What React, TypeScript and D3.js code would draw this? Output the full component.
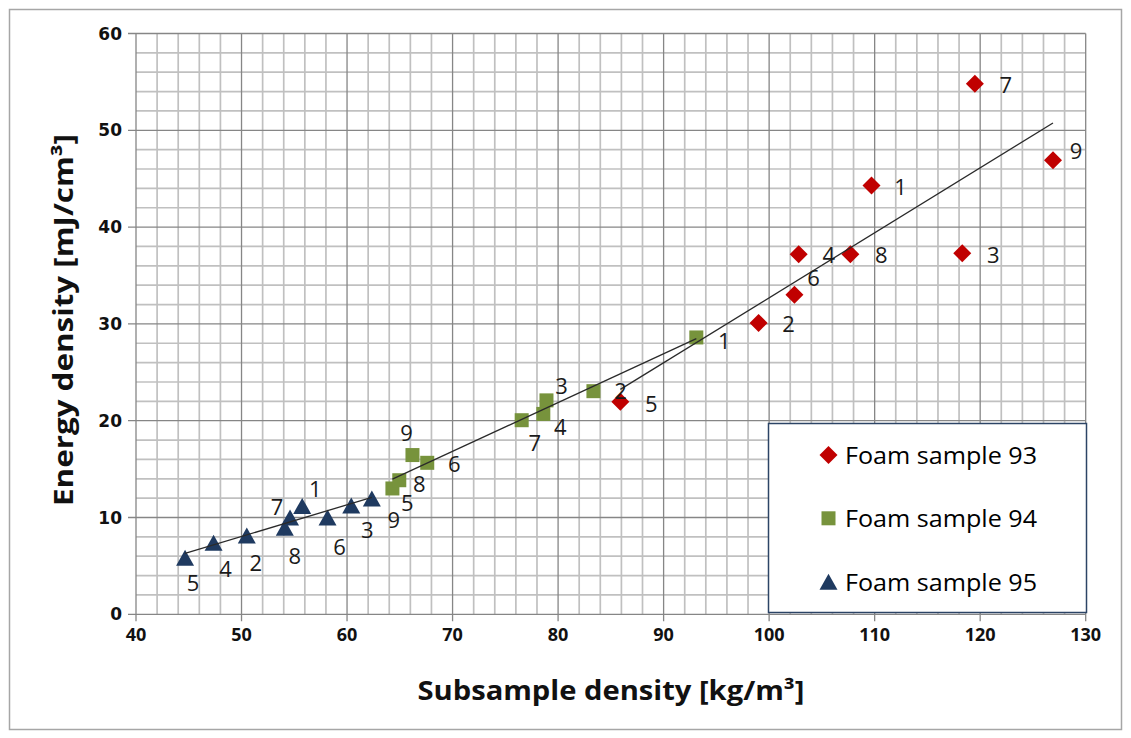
import React from "react";
import * as d3 from "d3";

// Sample numbers labelling each measured subsample
const sampleNumbers = ["1", "2", "3", "4", "5", "6", "7", "8", "9"];

// Foam sample 93 — subsample density [kg/m³] and energy density [mJ/cm³]
const foam93Density = [109.7, 99.0, 118.3, 102.8, 85.9, 102.4, 119.5, 107.7, 126.9];
const foam93Energy = [44.3, 30.1, 37.3, 37.2, 21.95, 33.0, 54.8, 37.2, 46.9];

// Foam sample 94
const foam94Density = [93.1, 83.35, 78.9, 78.6, 64.3, 67.6, 76.55, 64.95, 66.2];
const foam94Energy = [28.6, 23.05, 22.1, 20.7, 13.0, 15.65, 20.05, 13.85, 16.45];

// Foam sample 95
const foam95Density = [55.75, 50.5, 60.4, 47.35, 44.65, 58.15, 54.6, 54.1, 62.35];
const foam95Energy = [11.2, 8.15, 11.25, 7.4, 5.85, 10.0, 10.0, 8.95, 11.95];

const xTicks = [40, 50, 60, 70, 80, 90, 100, 110, 120, 130];
const yTicks = [0, 10, 20, 30, 40, 50, 60];

// Hand-placed label offsets (px) for each sample number, in order 1..9
const foam93LabelOffsets = [[29, 1], [30, 0], [31, 1], [30, 0], [31, 1], [19, -18], [31, 0], [31, 0], [23, -10]];
const foam94LabelOffsets = [[28, 3], [27, -1], [15, -15], [17, 12], [15, 14], [27, 0], [13, 22], [20, 3], [-6, -23]];
const foam95LabelOffsets = [[13, -18], [9, 27], [16, 24], [12, 25], [8, 24], [12, 28], [-13, -12], [10, 27], [22, 20]];

type Pt = { x: number; y: number; label: string; dx: number; dy: number };

function buildPoints(xs: number[], ys: number[], offs: number[][]): Pt[] {
  return xs.map((x, i) => ({ x, y: ys[i], label: sampleNumbers[i], dx: offs[i][0], dy: offs[i][1] }));
}

// Least-squares linear fit, drawn over the series' own x-range
function linearFit(pts: Pt[]) {
  const mx = d3.mean(pts, (p) => p.x) as number;
  const my = d3.mean(pts, (p) => p.y) as number;
  const sxy = d3.sum(pts, (p) => (p.x - mx) * (p.y - my));
  const sxx = d3.sum(pts, (p) => (p.x - mx) * (p.x - mx));
  const slope = sxy / sxx;
  const intercept = my - slope * mx;
  const [x0, x1] = d3.extent(pts, (p) => p.x) as [number, number];
  return [
    [x0, intercept + slope * x0],
    [x1, intercept + slope * x1],
  ] as [number, number][];
}

const RED = "#c00000";
const GREEN = "#77933c";
const NAVY = "#1f3a60";

const series = [
  { name: "Foam sample 93", color: RED, shape: "diamond", pts: buildPoints(foam93Density, foam93Energy, foam93LabelOffsets) },
  { name: "Foam sample 94", color: GREEN, shape: "square", pts: buildPoints(foam94Density, foam94Energy, foam94LabelOffsets) },
  { name: "Foam sample 95", color: NAVY, shape: "triangle", pts: buildPoints(foam95Density, foam95Energy, foam95LabelOffsets) },
];

function Marker({ shape, cx, cy, color }: { shape: string; cx: number; cy: number; color: string }) {
  if (shape === "diamond") {
    const r = 9;
    return <path d={`M${cx},${cy - r}L${cx + r},${cy}L${cx},${cy + r}L${cx - r},${cy}Z`} fill={color} />;
  }
  if (shape === "square") {
    const s = 14;
    return <rect x={cx - s / 2} y={cy - s / 2} width={s} height={s} fill={color} />;
  }
  const w = 18;
  const h = 16;
  return <path d={`M${cx},${cy - h / 2}L${cx + w / 2},${cy + h / 2}L${cx - w / 2},${cy + h / 2}Z`} fill={color} />;
}

export default function App() {
  const width = 1131;
  const height = 738;
  const left = 136;
  const right = 1085.7;
  const top = 33.5;
  const bottom = 614.3;

  const x = d3.scaleLinear().domain([40, 130]).range([left, right]);
  const y = d3.scaleLinear().domain([0, 60]).range([bottom, top]);

  const minorX = d3.range(42, 130, 2).filter((v) => v % 10 !== 0);
  const minorY = d3.range(2, 60, 2).filter((v) => v % 10 !== 0);

  const line = d3
    .line<[number, number]>()
    .x((d) => x(d[0]))
    .y((d) => y(d[1]));

  const labelFont = "'Open Sans', 'DejaVu Sans', sans-serif";

  const legendX = 768.5;
  const legendY = 423.5;
  const legendW = 318;
  const legendH = 189;
  const legendRows = [455, 518.3, 581.7];

  return (
    <svg
      width={width}
      height={height}
      style={{ position: "absolute", left: 0, top: 0, background: "#fff" }}
    >
      <rect x={0} y={0} width={width} height={height} fill="#fff" />
      <rect x={9.5} y={9.5} width={1112} height={720} fill="none" stroke="#a6a6a6" strokeWidth={1.5} />

      {/* minor grid */}
      <g stroke="#c0c0c0" strokeWidth={1.7}>
        {minorX.map((v) => (
          <line key={"mx" + v} x1={x(v)} x2={x(v)} y1={top} y2={bottom} />
        ))}
        {minorY.map((v) => (
          <line key={"my" + v} x1={left} x2={right} y1={y(v)} y2={y(v)} />
        ))}
      </g>
      {/* major grid */}
      <g stroke="#868686" strokeWidth={1.3}>
        {xTicks.map((v) => (
          <line key={"gx" + v} x1={x(v)} x2={x(v)} y1={top} y2={bottom + 7} />
        ))}
        {yTicks.map((v) => (
          <line key={"gy" + v} x1={left - 8} x2={right} y1={y(v)} y2={y(v)} />
        ))}
      </g>

      {/* tick labels */}
      <g fontFamily="'DejaVu Sans', sans-serif" fontWeight="bold" fontSize={17} fill="#111" textAnchor="end">
        {yTicks.map((v) => (
          <text key={"ty" + v} x={left - 14} y={y(v)} dominantBaseline="central">
            {v}
          </text>
        ))}
      </g>
      <g fontFamily="'Open Sans', sans-serif" fontWeight="bold" fontSize={18} fill="#111" textAnchor="middle">
        {xTicks.map((v) => (
          <text key={"tx" + v} x={x(v)} y={634} dominantBaseline="central">
            {v}
          </text>
        ))}
      </g>

      {/* markers */}
      {series.map((s) => (
        <g key={s.name}>
          {s.pts.map((p) => (
            <Marker key={p.label} shape={s.shape} cx={x(p.x)} cy={y(p.y)} color={s.color} />
          ))}
        </g>
      ))}

      {/* linear trendlines */}
      {series.map((s) => (
        <path key={"fit" + s.name} d={line(linearFit(s.pts)) as string} fill="none" stroke="#2a2a2a" strokeWidth={1.3} />
      ))}

      {/* sample number labels */}
      <g fontFamily={labelFont} fontSize={22} fill="#1a1a1a" textAnchor="middle">
        {series.map((s) =>
          s.pts.map((p) => (
            <text key={s.name + p.label} x={x(p.x) + p.dx} y={y(p.y) + p.dy} dominantBaseline="central">
              {p.label}
            </text>
          ))
        )}
      </g>

      {/* legend */}
      <rect x={legendX} y={legendY} width={legendW} height={legendH} fill="#fff" stroke="#2c4466" strokeWidth={1.5} />
      {series.map((s, i) => (
        <g key={"lg" + s.name}>
          <Marker shape={s.shape} cx={828.5} cy={legendRows[i]} color={s.color} />
          <text
            x={845}
            y={legendRows[i]}
            dominantBaseline="central"
            fontFamily={labelFont}
            fontSize={23}
            fill="#000"
            textLength={192}
            lengthAdjust="spacingAndGlyphs"
          >
            {s.name}
          </text>
        </g>
      ))}

      {/* axis titles */}
      <text
        x={611}
        y={690}
        textAnchor="middle"
        dominantBaseline="central"
        fontFamily={labelFont}
        fontWeight="bold"
        fontSize={26}
        fill="#111"
        textLength={387}
        lengthAdjust="spacingAndGlyphs"
      >
        Subsample density [kg/m³]
      </text>
      <text
        transform="translate(63,320) rotate(-90)"
        textAnchor="middle"
        dominantBaseline="central"
        fontFamily={labelFont}
        fontWeight="bold"
        fontSize={26}
        fill="#111"
        textLength={372}
        lengthAdjust="spacingAndGlyphs"
      >
        Energy density [mJ/cm³]
      </text>
    </svg>
  );
}
